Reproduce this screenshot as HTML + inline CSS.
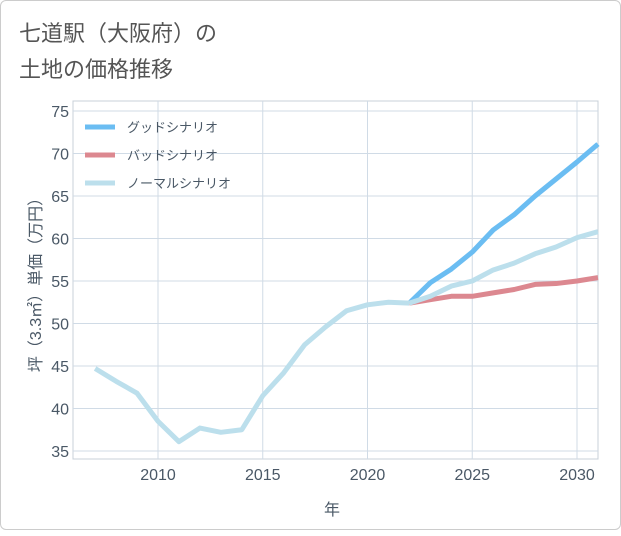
<!DOCTYPE html>
<html><head><meta charset="utf-8"><style>
body{margin:0;background:#fff;font-family:"Liberation Sans","Noto Sans CJK JP",sans-serif;}
#card{position:absolute;left:0;top:0;width:619px;height:528px;border:1px solid #ccc;border-radius:6px;background:#fff;}
</style></head><body>
<div id="card">
<svg width="621" height="530">
<text x="18" y="40" font-size="22" fill="#555">七道駅（大阪府）の</text>
<text x="18" y="76" font-size="22" fill="#555">土地の価格推移</text>
<g id="grid"></g>
<g id="series"></g>
<g id="legend"></g>
<text x="331" y="514" font-size="16" fill="#4a5866" text-anchor="middle">年</text>
<text transform="translate(40,280) rotate(-90)" font-size="16" fill="#4a5866" text-anchor="middle">坪（3.3㎡）単価（万円）</text>
</svg></div>
<script>
const years=[2007,2008,2009,2010,2011,2012,2013,2014,2015,2016,2017,2018,2019,2020,2021,2022];
const hist=[44.7,43.2,41.8,38.5,36.1,37.7,37.2,37.5,41.5,44.2,47.5,49.6,51.5,52.2,52.5,52.4];
const futYears=[2022,2023,2024,2025,2026,2027,2028,2029,2030,2031];
const good=[52.4,54.8,56.4,58.4,61.0,62.8,65.0,67.0,69.0,71.1];
const bad=[52.4,52.8,53.2,53.2,53.6,54.0,54.6,54.7,55.0,55.4];
const normal=[52.4,53.2,54.4,55.0,56.3,57.1,58.2,59.0,60.1,60.8];
const xTicks=[2010,2015,2020,2025,2030];
const yTicks=[35,40,45,50,55,60,65,70,75];
const L=72,R=597,T=100,B=458;
const x=v=>157+(v-2010)*20.95;
const y=v=>110+(75-v)*8.5;
const NS="http://www.w3.org/2000/svg";
function mk(tag,attrs,parent){const e=document.createElementNS(NS,tag);for(const k in attrs)e.setAttribute(k,attrs[k]);parent.appendChild(e);return e;}
const g=document.getElementById('grid');
const frame=mk('rect',{x:L,y:T,width:R-L,height:B-T,fill:'none',stroke:'#c8d0d8'},g);


xTicks.forEach(t=>{
 const l=mk('line',{x1:x(t),x2:x(t),y1:T,y2:B,stroke:'#d0dbe6'},g);
 
 
 const tx=mk('text',{x:x(t),y:479,'font-size':16,fill:'#4a5866','text-anchor':'middle'},g);tx.textContent=t;
 
 
});
yTicks.forEach(t=>{
 const l=mk('line',{x1:L,x2:R,y1:y(t),y2:y(t),stroke:'#d0dbe6'},g);
 
 
 const tx=mk('text',{x:68,y:y(t)+6,'font-size':16,fill:'#4a5866','text-anchor':'end'},g);tx.textContent=t;
 
 
});
const s=document.getElementById('series');
function line(xs,ys,color,name){
 const p=mk('polyline',{points:xs.map((v,i)=>x(v)+','+y(ys[i])).join(' '),fill:'none',stroke:color,'stroke-width':5,'stroke-linejoin':'round'},s);
 
 
}
line(futYears,good,'#6bbdf2','good-scenario-line');
line(futYears,bad,'#dc8890','bad-scenario-line');
line(futYears,normal,'#bcdfec','normal-scenario-line');
line(years,hist,'#bcdfec','historical-line');
const lg=document.getElementById('legend');
[['グッドシナリオ','#6bbdf2',126],['バッドシナリオ','#dc8890',154],['ノーマルシナリオ','#bcdfec',182]].forEach(([t,c,yy])=>{
 const l=mk('line',{x1:84,x2:114,y1:yy,y2:yy,stroke:c,'stroke-width':5},lg);
 
 
 const tx=mk('text',{x:126,y:yy+5,'font-size':13,fill:'#4a5866'},lg);tx.textContent=t;
 
 
});
</script>
</body></html>
